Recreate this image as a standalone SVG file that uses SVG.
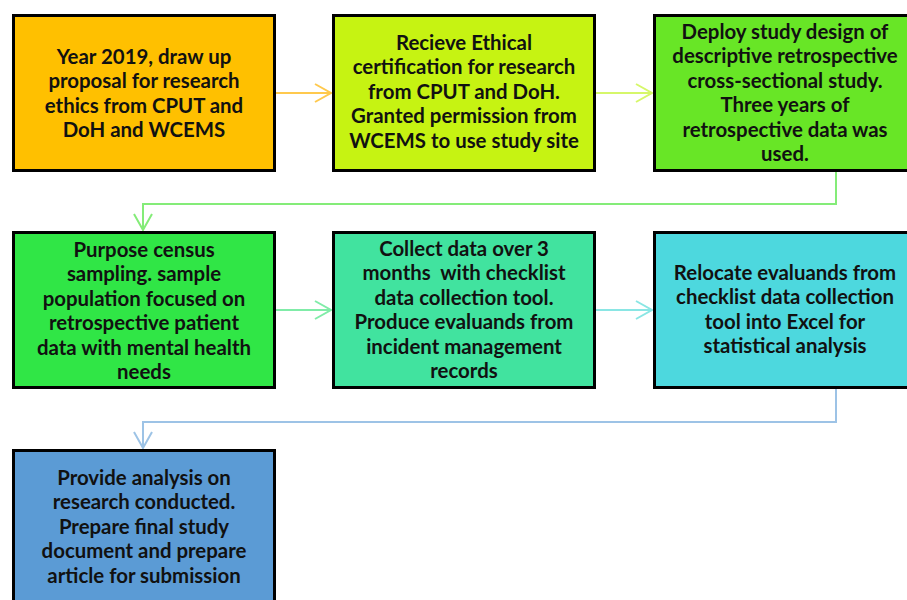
<svg xmlns="http://www.w3.org/2000/svg" width="907" height="600" viewBox="0 0 907 600">
  <style>
    .box { stroke: #000; stroke-width: 3; }
    .lbl { font-family: Lato, "Open Sans", "Liberation Sans", sans-serif; font-weight: bold; font-size: 20.4px; fill: #111; text-anchor: middle; white-space: pre; }
    .conn { fill: none; stroke-width: 2; stroke-linejoin: miter; }
  </style>
  <defs>
    <marker id="a1" viewBox="0 0 20 20" refX="17" refY="10" markerWidth="20" markerHeight="20" markerUnits="userSpaceOnUse" orient="auto">
      <path d="M1,1 L17,10 L1,19" fill="none" stroke="#FFC94D" stroke-width="2"/>
    </marker>
    <marker id="a2" viewBox="0 0 20 20" refX="17" refY="10" markerWidth="20" markerHeight="20" markerUnits="userSpaceOnUse" orient="auto">
      <path d="M1,1 L17,10 L1,19" fill="none" stroke="#D6F76A" stroke-width="2"/>
    </marker>
    <marker id="a3" viewBox="0 0 20 20" refX="17" refY="10" markerWidth="20" markerHeight="20" markerUnits="userSpaceOnUse" orient="auto">
      <path d="M1,1 L17,10 L1,19" fill="none" stroke="#84EC78" stroke-width="2"/>
    </marker>
    <marker id="a4" viewBox="0 0 20 20" refX="17" refY="10" markerWidth="20" markerHeight="20" markerUnits="userSpaceOnUse" orient="auto">
      <path d="M1,1 L17,10 L1,19" fill="none" stroke="#80ECA8" stroke-width="2"/>
    </marker>
    <marker id="a5" viewBox="0 0 20 20" refX="17" refY="10" markerWidth="20" markerHeight="20" markerUnits="userSpaceOnUse" orient="auto">
      <path d="M1,1 L17,10 L1,19" fill="none" stroke="#8AE6E4" stroke-width="2"/>
    </marker>
    <marker id="a6" viewBox="0 0 20 20" refX="17" refY="10" markerWidth="20" markerHeight="20" markerUnits="userSpaceOnUse" orient="auto">
      <path d="M1,1 L17,10 L1,19" fill="none" stroke="#9DC3E6" stroke-width="2"/>
    </marker>
  </defs>

  <rect width="907" height="600" fill="#fff"/>

  <!-- connectors -->
  <g id="connectors">
    <path class="conn" stroke="#FFC94D" d="M276,93 H331" marker-end="url(#a1)"/>
    <path class="conn" stroke="#D6F76A" d="M596,93 H652" marker-end="url(#a2)"/>
    <path class="conn" stroke="#84EC78" d="M836,172 V204 H143 V230" marker-end="url(#a3)"/>
    <path class="conn" stroke="#80ECA8" d="M276,310 H331" marker-end="url(#a4)"/>
    <path class="conn" stroke="#8AE6E4" d="M596,310 H652" marker-end="url(#a5)"/>
    <path class="conn" stroke="#9DC3E6" d="M836,389 V422 H143 V448" marker-end="url(#a6)"/>
  </g>

  <g id="n1">
    <rect class="box" x="13.5" y="15.5" width="261" height="155" fill="#FFC000"/>
    <text class="lbl" x="144" y="64">Year 2019, draw up</text>
    <text class="lbl" x="144" y="88.4">proposal for research</text>
    <text class="lbl" x="144" y="112.8">ethics from CPUT and</text>
    <text class="lbl" x="144" y="137.2">DoH and WCEMS</text>
  </g>

  <g id="n2">
    <rect class="box" x="333.5" y="15.5" width="261" height="155" fill="#C6F312"/>
    <text class="lbl" x="464" y="50">Recieve Ethical</text>
    <text class="lbl" x="464" y="74.4">certification for research</text>
    <text class="lbl" x="464" y="98.8">from CPUT and DoH.</text>
    <text class="lbl" x="464" y="123.2">Granted permission from</text>
    <text class="lbl" x="464" y="147.6">WCEMS to use study site</text>
  </g>

  <g id="n3">
    <rect class="box" x="654.5" y="15.5" width="261" height="155" fill="#68E626"/>
    <text class="lbl" x="785" y="39">Deploy study design of</text>
    <text class="lbl" x="785" y="63.4">descriptive retrospective</text>
    <text class="lbl" x="785" y="87.8">cross-sectional study.</text>
    <text class="lbl" x="785" y="112.2">Three years of</text>
    <text class="lbl" x="785" y="136.6">retrospective data was</text>
    <text class="lbl" x="785" y="161">used.</text>
  </g>

  <g id="n4">
    <rect class="box" x="13.5" y="232.5" width="261" height="155" fill="#30E646"/>
    <text class="lbl" x="144" y="257">Purpose census</text>
    <text class="lbl" x="144" y="281.4">sampling. sample</text>
    <text class="lbl" x="144" y="305.8">population focused on</text>
    <text class="lbl" x="144" y="330.2">retrospective patient</text>
    <text class="lbl" x="144" y="354.6">data with mental health</text>
    <text class="lbl" x="144" y="379">needs</text>
  </g>

  <g id="n5">
    <rect class="box" x="333.5" y="232.5" width="261" height="155" fill="#41E39F"/>
    <text class="lbl" x="464" y="256">Collect data over 3</text>
    <text class="lbl" x="464" y="280.4">months  with checklist</text>
    <text class="lbl" x="464" y="304.8">data collection tool.</text>
    <text class="lbl" x="464" y="329.2">Produce evaluands from</text>
    <text class="lbl" x="464" y="353.6">incident management</text>
    <text class="lbl" x="464" y="378">records</text>
  </g>

  <g id="n6">
    <rect class="box" x="654.5" y="232.5" width="261" height="155" fill="#4DD8DE"/>
    <text class="lbl" x="785" y="280">Relocate evaluands from</text>
    <text class="lbl" x="785" y="304.4">checklist data collection</text>
    <text class="lbl" x="785" y="328.8">tool into Excel for</text>
    <text class="lbl" x="785" y="353.2">statistical analysis</text>
  </g>

  <g id="n7">
    <rect class="box" x="13.5" y="450.5" width="261" height="155" fill="#5B9BD5"/>
    <text class="lbl" x="144" y="485">Provide analysis on</text>
    <text class="lbl" x="144" y="509.4">research conducted.</text>
    <text class="lbl" x="144" y="533.8">Prepare final study</text>
    <text class="lbl" x="144" y="558.2">document and prepare</text>
    <text class="lbl" x="144" y="582.6">article for submission</text>
  </g>
</svg>
